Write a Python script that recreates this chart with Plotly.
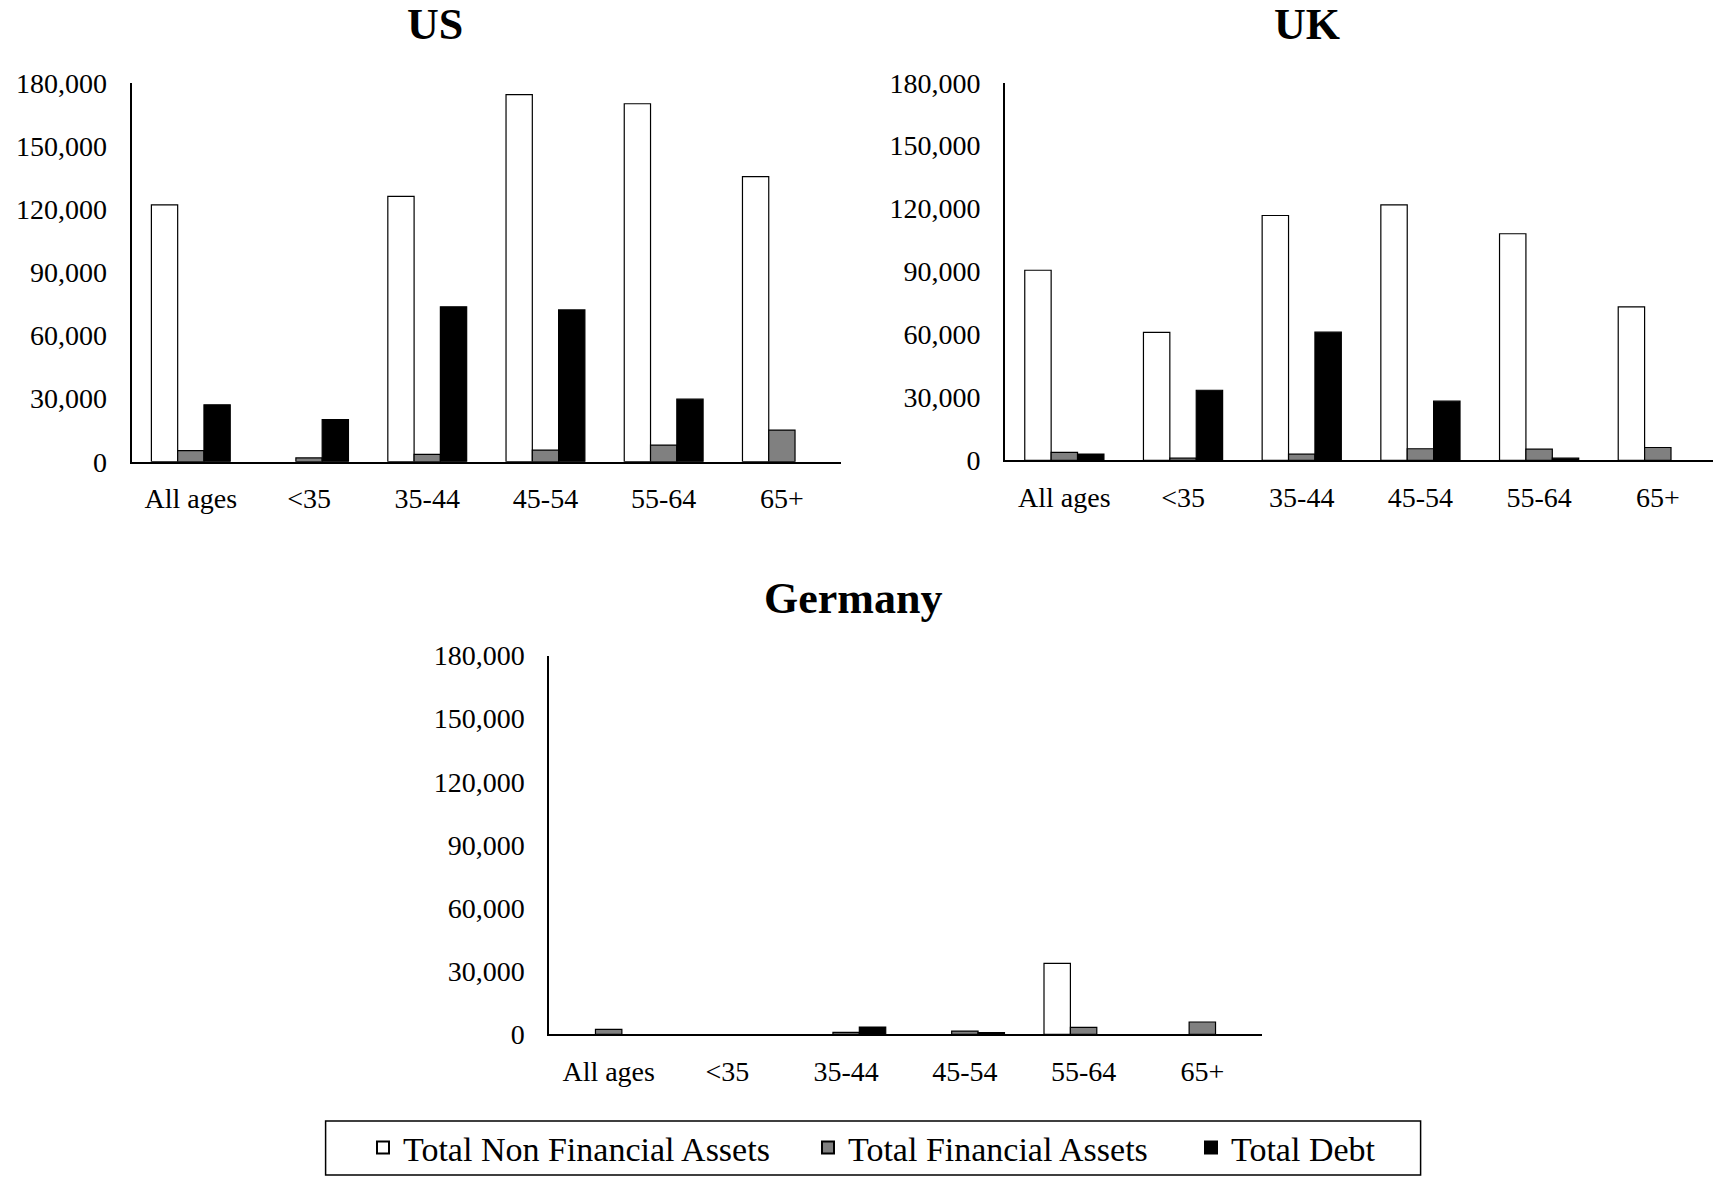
import plotly.graph_objects as go

# Age groups shared by all three panels
age_groups = ["All ages", "<35", "35-44", "45-54", "55-64", "65+"]

# Household balance sheet components by age group (None = not reported)
us_non_financial = [122000, None, 126000, 174300, 170000, 135400]
us_financial = [5300, 1800, 3500, 5500, 7900, 15000]
us_debt = [27000, 20000, 73600, 72100, 29700, None]

uk_non_financial = [90600, 61000, 116700, 121800, 108000, 73100]
uk_financial = [3800, 1000, 2900, 5500, 5300, 6100]
uk_debt = [3000, 33400, 61100, 28200, 1000, None]

de_non_financial = [None, None, None, None, 33700, None]
de_financial = [2400, None, 950, 1600, 3300, 5900]
de_debt = [None, None, 3500, 900, None, None]

series_names = ["Total Non Financial Assets", "Total Financial Assets", "Total Debt"]
series_colors = ["#ffffff", "#808080", "#000000"]
legend_widths = [400, 338, None]

y_ticks = [0, 30000, 60000, 90000, 120000, 150000, 180000]

W, H = 1713, 1177
FONT = "Liberation Serif, Times New Roman, serif"


def px_x(p):
    return p / W


def px_y(p):
    return 1 - p / H


panels = [
    # (name, series values, x axis id, y axis id, x domain px, y domain px, x range end)
    ("US", [us_non_financial, us_financial, us_debt], "x", "y", (131.7, 841.0), (461.7, 82.7), 5.5),
    ("UK", [uk_non_financial, uk_financial, uk_debt], "x2", "y2", (1005.0, 1713.0), (460.3, 82.7), 5.465),
    ("Germany", [de_non_financial, de_financial, de_debt], "x3", "y3", (549.3, 1261.7), (1034.4, 655.5), 5.5),
]

fig = go.Figure()

for pi, (name, values, xa, ya, _, _, _) in enumerate(panels):
    for si, (sname, color) in enumerate(zip(series_names, series_colors)):
        bar = go.Bar(
            x=age_groups,
            y=values[si],
            name=sname,
            marker=dict(color=color, line=dict(color="#000000", width=1.2)),
            xaxis=xa,
            yaxis=ya,
            showlegend=(pi == 0),
            legendgroup=sname,
        )
        if legend_widths[si]:
            bar.legendwidth = legend_widths[si]
        fig.add_trace(bar)

layout = dict(
    template="none",
    width=W,
    height=H,
    autosize=False,
    margin=dict(l=0, r=0, t=0, b=0, pad=0, autoexpand=False),
    paper_bgcolor="white",
    plot_bgcolor="white",
    barmode="group",
    bargap=0.333,
    bargroupgap=0,
    font=dict(family=FONT, color="black", size=28),
    showlegend=True,
    legend=dict(
        orientation="h",
        x=px_x(363), xanchor="left",
        y=px_y(1148), yanchor="middle",
        font=dict(family=FONT, size=34, color="black"),
        bgcolor="rgba(0,0,0,0)",
        borderwidth=0,
        itemsizing="constant",
        traceorder="normal",
    ),
)

annotations = []
title_centers = {"US": (435, 25), "UK": (1307, 25), "Germany": (853, 598)}

for name, _, xa, ya, (xl, xr), (yb, yt), xend in panels:
    xkey = "xaxis" if xa == "x" else "xaxis" + xa[1:]
    ykey = "yaxis" if ya == "y" else "yaxis" + ya[1:]
    layout[xkey] = dict(
        domain=[px_x(xl), px_x(xr)],
        anchor=ya,
        type="category",
        categoryorder="array",
        categoryarray=age_groups,
        range=[-0.5, xend],
        automargin=False,
        showline=True,
        linecolor="black",
        linewidth=2.2,
        showgrid=False,
        zeroline=False,
        ticks="outside",
        ticklen=11,
        tickcolor="rgba(0,0,0,0)",
        tickfont=dict(family=FONT, size=28, color="black"),
        fixedrange=True,
    )
    layout[ykey] = dict(
        domain=[px_y(yb), px_y(yt)],
        anchor=xa,
        range=[0, 180000],
        tickvals=y_ticks,
        tickformat=",",
        automargin=False,
        showline=True,
        linecolor="black",
        linewidth=2,
        showgrid=False,
        zeroline=False,
        ticks="outside",
        ticklen=17,
        tickcolor="rgba(0,0,0,0)",
        tickfont=dict(family=FONT, size=28, color="black"),
        fixedrange=True,
    )
    cx, cy = title_centers[name]
    annotations.append(dict(
        text="<b>%s</b>" % name,
        x=px_x(cx), y=px_y(cy),
        xref="paper", yref="paper",
        xanchor="center", yanchor="middle",
        showarrow=False,
        font=dict(family=FONT, size=44, color="black"),
    ))

layout["annotations"] = annotations

# Frame around the legend
layout["shapes"] = [dict(
    type="rect", xref="paper", yref="paper",
    x0=px_x(325.6), x1=px_x(1420.6),
    y0=px_y(1175), y1=px_y(1121),
    line=dict(color="black", width=1.5),
    fillcolor="rgba(0,0,0,0)",
    layer="below",
)]

fig.update_layout(**layout)
fig.write_html("out.html", config={"displayModeBar": False})
